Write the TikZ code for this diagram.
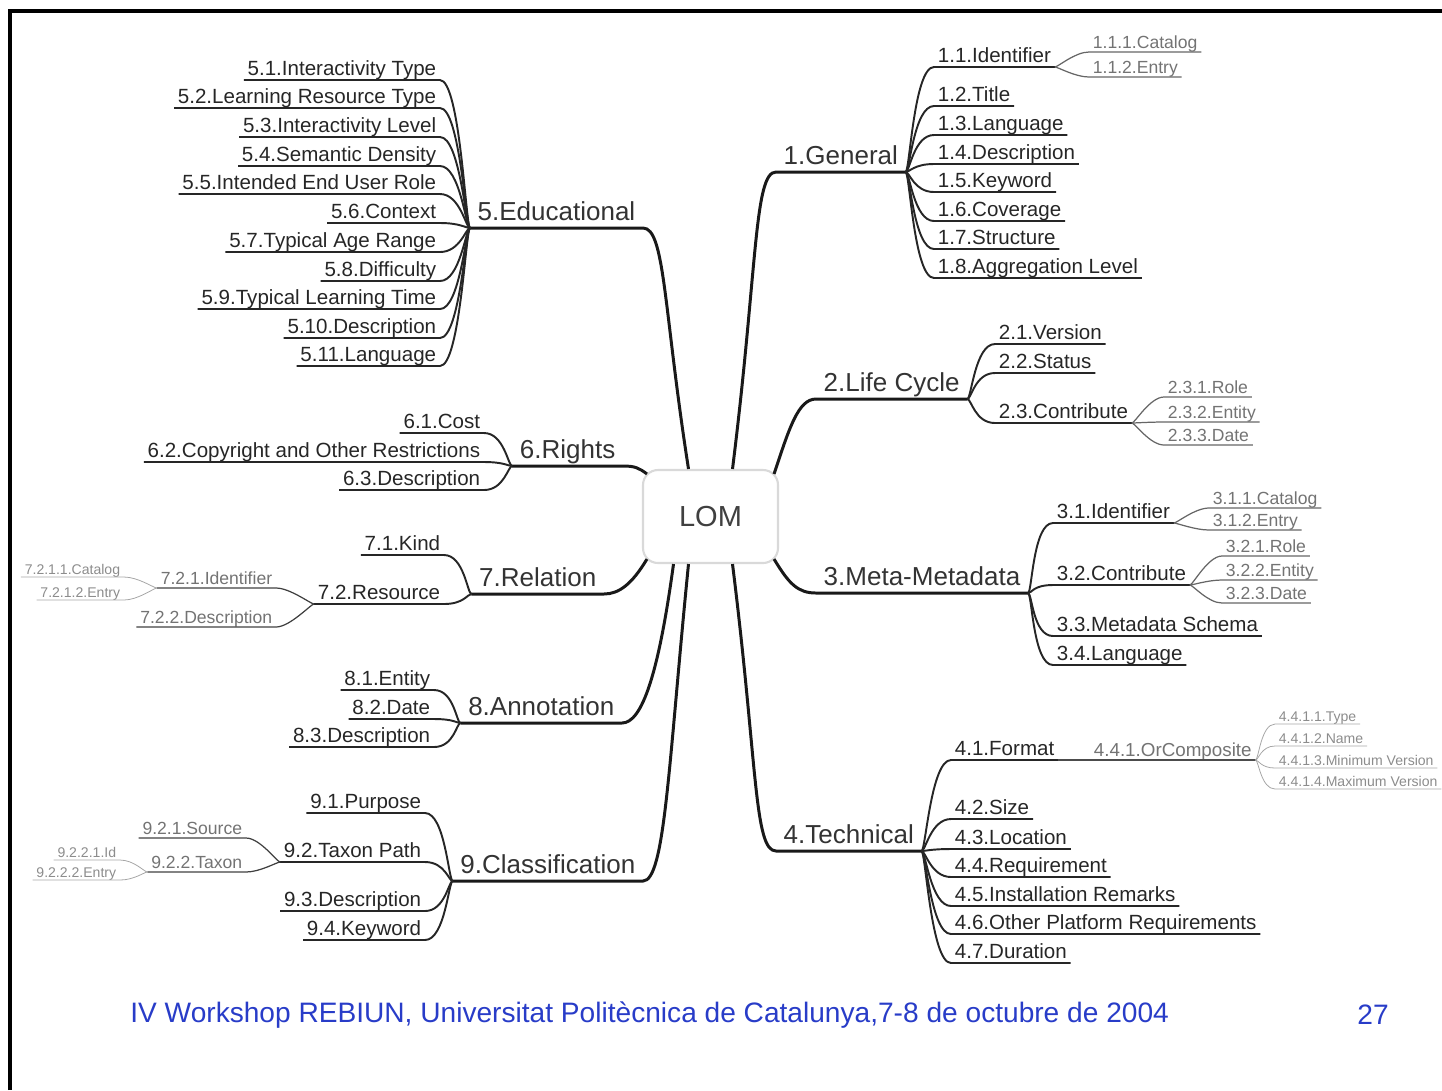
\documentclass[tikz,border=0pt]{standalone}
\usepackage{fontspec}
\setmainfont{Liberation Sans}
\usetikzlibrary{calc}
\definecolor{footblue}{RGB}{40,60,200}

\begin{document}
\begin{tikzpicture}[x=0.02cm, y=-0.02cm,
		main/.style={line width=1.7pt, black!90},
		br2/.style={line width=1.1pt, black!85},
		br3/.style={line width=0.7pt, black!60},
		br4/.style={line width=0.45pt, black!35},
		t1/.style={font=\fontsize{14.8}{16}\selectfont, text=black!80, inner xsep=4.2pt, inner ysep=3.8pt, text depth=0pt},
		t2/.style={font=\fontsize{11.7}{13}\selectfont, text=black!85, inner xsep=2pt, inner ysep=2.2pt, text depth=0pt},
		t3/.style={font=\fontsize{10}{11}\selectfont, text=black!55, inner xsep=2pt, inner ysep=2pt, text depth=0pt},
		t4/.style={font=\fontsize{8}{9}\selectfont, text=black!45, inner xsep=2pt, inner ysep=1.5pt, text depth=0pt}]
			
			\useasboundingbox (0,0) rectangle (1442,1090);
			\draw[line width=2pt] (10,1090) -- (10,11) -- (1442,11);
			
			% root
			\node[draw=black!15, line width=1.2pt, rounded corners=8.5pt, minimum width=2.7cm, minimum height=1.86cm, font=\fontsize{16.5}{18}\selectfont, text=black!75] (lom) at (710.5,516.5) {LOM};
			\coordinate (l1) at ($(lom.north)+(22,0)$);
			\coordinate (l2) at ($(lom.north east)+(-5,5)$);
			\coordinate (l3) at ($(lom.south east)+(-5,-5)$);
			\coordinate (l4) at ($(lom.south)+(22,0)$);
			\coordinate (l5) at ($(lom.north)+(-22,0)$);
			\coordinate (l6) at ($(lom.north west)+(5,5)$);
			\coordinate (l7) at ($(lom.south west)+(5,-5)$);
			\coordinate (l8) at ($(lom.south)+(-37,0)$);
			\coordinate (l9) at ($(lom.south)+(-22,0)$);
			
			% main branches
			\node[t1, anchor=south west] (c1) at (776,172) {1.General};
			\node[t1, anchor=south west] (c2) at (816,399) {2.Life Cycle};
			\node[t1, anchor=south west] (c3) at (816,593) {3.Meta-Metadata};
			\node[t1, anchor=south west] (c4) at (776,851) {4.Technical};
			\node[t1, anchor=south east] (c5) at (643,228) {5.Educational};
			\node[t1, anchor=south east] (c6) at (623,466) {6.Rights};
			\node[t1, anchor=south east] (c7) at (604,594) {7.Relation};
			\node[t1, anchor=south east] (c8) at (622,723) {8.Annotation};
			\node[t1, anchor=south east] (c9) at (643,881) {9.Classification};
			
			\draw[main] (l1) .. controls +(25,-200) and +(-22,0) .. (c1.south west) -- (c1.south east);
			\draw[main] (l2) .. controls +(15,-45) and +(-18,0) .. (c2.south west) -- (c2.south east);
			\draw[main] (l3) .. controls +(15,25) and +(-18,0) .. (c3.south west) -- (c3.south east);
			\draw[main] (l4) .. controls +(25,200) and +(-22,0) .. (c4.south west) -- (c4.south east);
			\draw[main] (l5) .. controls +(-25,-160) and +(22,0) .. (c5.south east) -- (c5.south west);
			\draw[main] (l6) .. controls +(-8,-6) and +(12,0) .. (c6.south east) -- (c6.south west);
			\draw[main] (l7) .. controls +(-15,25) and +(15,0) .. (c7.south east) -- (c7.south west);
			\draw[main] (l8) .. controls +(-15,110) and +(20,0) .. (c8.south east) -- (c8.south west);
			\draw[main] (l9) .. controls +(-20,200) and +(22,0) .. (c9.south east) -- (c9.south west);
			
			% right side
			\foreach \lbl/\yy [count=\i] in {1.1.Identifier/67, 1.2.Title/106, 1.3.Language/135, 1.4.Description/164, 1.5.Keyword/192, 1.6.Coverage/221, 1.7.Structure/249, 1.8.Aggregation Level/278}{
				\node[t2, anchor=south west] (c1-\i) at (934,\yy) {\lbl};
				\draw[br2] (c1.south east) .. controls +(4,0) and +(-20,0) .. (c1-\i.south west) -- (c1-\i.south east);
			}
			\foreach \lbl/\yy [count=\i] in {1.1.1.Catalog/52, 1.1.2.Entry/77}{
				\node[t3, anchor=south west] (c1-1-\i) at (1089,\yy) {\lbl};
				\draw[br3] (c1-1.south east) .. controls +(3,0) and +(-14,0) .. (c1-1-\i.south west) -- (c1-1-\i.south east);
			}
			\foreach \lbl/\yy [count=\i] in {2.1.Version/344, 2.2.Status/373, 2.3.Contribute/423}{
				\node[t2, anchor=south west] (c2-\i) at (995,\yy) {\lbl};
				\draw[br2] (c2.south east) .. controls +(4,0) and +(-20,0) .. (c2-\i.south west) -- (c2-\i.south east);
			}
			\foreach \lbl/\yy [count=\i] in {2.3.1.Role/397, 2.3.2.Entity/422, 2.3.3.Date/445}{
				\node[t3, anchor=south west] (c2-3-\i) at (1164,\yy) {\lbl};
				\draw[br3] (c2-3.south east) .. controls +(3,0) and +(-14,0) .. (c2-3-\i.south west) -- (c2-3-\i.south east);
			}
			\foreach \lbl/\yy [count=\i] in {3.1.Identifier/523, 3.2.Contribute/585, 3.3.Metadata Schema/636, 3.4.Language/665}{
				\node[t2, anchor=south west] (c3-\i) at (1053,\yy) {\lbl};
				\draw[br2] (c3.south east) .. controls +(4,0) and +(-20,0) .. (c3-\i.south west) -- (c3-\i.south east);
			}
			\foreach \lbl/\yy [count=\i] in {3.1.1.Catalog/508, 3.1.2.Entry/530}{
				\node[t3, anchor=south west] (c3-1-\i) at (1209,\yy) {\lbl};
				\draw[br3] (c3-1.south east) .. controls +(3,0) and +(-14,0) .. (c3-1-\i.south west) -- (c3-1-\i.south east);
			}
			\foreach \lbl/\yy [count=\i] in {3.2.1.Role/556, 3.2.2.Entity/580, 3.2.3.Date/603}{
				\node[t3, anchor=south west] (c3-2-\i) at (1222,\yy) {\lbl};
				\draw[br3] (c3-2.south east) .. controls +(3,0) and +(-14,0) .. (c3-2-\i.south west) -- (c3-2-\i.south east);
			}
			\foreach \lbl/\yy [count=\i] in {4.1.Format/760, 4.2.Size/819, 4.3.Location/849, 4.4.Requirement/877, 4.5.Installation Remarks/906, 4.6.Other Platform Requirements/934, 4.7.Duration/963}{
				\node[t2, anchor=south west] (c4-\i) at (951,\yy) {\lbl};
				\draw[br2] (c4.south east) .. controls +(4,0) and +(-20,0) .. (c4-\i.south west) -- (c4-\i.south east);
			}
			\node[t3, font=\fontsize{10.7}{12}\selectfont, anchor=south west] (c4-1-1) at (1090,760) {4.4.1.OrComposite};
			\draw[br3, black!70] (c4-1.south east) -- (c4-1-1.south west) -- (c4-1-1.south east);
			\foreach \lbl/\yy [count=\i] in {4.4.1.1.Type/724, 4.4.1.2.Name/746, 4.4.1.3.Minimum Version/768, 4.4.1.4.Maximum Version/789}{
				\node[t4, anchor=south west] (c4-1-1-\i) at (1275,\yy) {\lbl};
				\draw[br4] (c4-1-1.south east) .. controls +(3,0) and +(-14,0) .. (c4-1-1-\i.south west) -- (c4-1-1-\i.south east);
			}
			
			% left side
			\foreach \lbl/\yy [count=\i] in {5.1.Interactivity Type/80, 5.2.Learning Resource Type/108, 5.3.Interactivity Level/137, 5.4.Semantic Density/166, 5.5.Intended End User Role/194, 5.6.Context/223, 5.7.Typical Age Range/252, 5.8.Difficulty/281, 5.9.Typical Learning Time/309, 5.10.Description/338, 5.11.Language/366}{
				\node[t2, anchor=south east] (c5-\i) at (440,\yy) {\lbl};
				\draw[br2] (c5.south west) .. controls +(-4,0) and +(20,0) .. (c5-\i.south east) -- (c5-\i.south west);
			}
			\foreach \lbl/\yy [count=\i] in {6.1.Cost/433, 6.2.Copyright and Other Restrictions/462, 6.3.Description/490}{
				\node[t2, anchor=south east] (c6-\i) at (484,\yy) {\lbl};
				\draw[br2] (c6.south west) .. controls +(-4,0) and +(20,0) .. (c6-\i.south east) -- (c6-\i.south west);
			}
			\foreach \lbl/\yy [count=\i] in {7.1.Kind/555, 7.2.Resource/604}{
				\node[t2, anchor=south east] (c7-\i) at (444,\yy) {\lbl};
				\draw[br2] (c7.south west) .. controls +(-4,0) and +(20,0) .. (c7-\i.south east) -- (c7-\i.south west);
			}
			\foreach \lbl/\yy [count=\i] in {7.2.1.Identifier/588, 7.2.2.Description/627}{
				\node[t3, anchor=south east] (c7-2-\i) at (276,\yy) {\lbl};
				\draw[br3, black!75] (c7-2.south west) .. controls +(-3,0) and +(14,0) .. (c7-2-\i.south east) -- (c7-2-\i.south west);
			}
			\foreach \lbl/\yy [count=\i] in {7.2.1.1.Catalog/577, 7.2.1.2.Entry/600}{
				\node[t4, anchor=south east] (c7-2-1-\i) at (124,\yy) {\lbl};
				\draw[br4] (c7-2-1.south west) .. controls +(-3,0) and +(14,0) .. (c7-2-1-\i.south east) -- (c7-2-1-\i.south west);
			}
			\foreach \lbl/\yy [count=\i] in {8.1.Entity/690, 8.2.Date/719, 8.3.Description/747}{
				\node[t2, anchor=south east] (c8-\i) at (434,\yy) {\lbl};
				\draw[br2] (c8.south west) .. controls +(-4,0) and +(20,0) .. (c8-\i.south east) -- (c8-\i.south west);
			}
			\foreach \lbl/\yy [count=\i] in {9.1.Purpose/813, 9.2.Taxon Path/862, 9.3.Description/911, 9.4.Keyword/940}{
				\node[t2, anchor=south east] (c9-\i) at (425,\yy) {\lbl};
				\draw[br2] (c9.south west) .. controls +(-4,0) and +(20,0) .. (c9-\i.south east) -- (c9-\i.south west);
			}
			\foreach \lbl/\yy [count=\i] in {9.2.1.Source/838, 9.2.2.Taxon/872}{
				\node[t3, anchor=south east] (c9-2-\i) at (246,\yy) {\lbl};
				\draw[br3, black!75] (c9-2.south west) .. controls +(-3,0) and +(14,0) .. (c9-2-\i.south east) -- (c9-2-\i.south west);
			}
			\foreach \lbl/\yy [count=\i] in {9.2.2.1.Id/860, 9.2.2.2.Entry/880}{
				\node[t4, anchor=south east] (c9-2-2-\i) at (120,\yy) {\lbl};
				\draw[br4] (c9-2-2.south west) .. controls +(-3,0) and +(14,0) .. (c9-2-2-\i.south east) -- (c9-2-2-\i.south west);
			}
			
			% footer
			\node[anchor=west, inner sep=0pt, font=\fontsize{16}{18}\selectfont, text=footblue] (foot) at (130,1015) {IV Workshop REBIUN, Universitat Politècnica de Catalunya,7-8 de octubre de 2004};
			\node[anchor=west, inner sep=0pt, font=\fontsize{16}{18}\selectfont, text=footblue] (page) at (1357,1015) {27};
			
	\end{tikzpicture}
\end{document}
